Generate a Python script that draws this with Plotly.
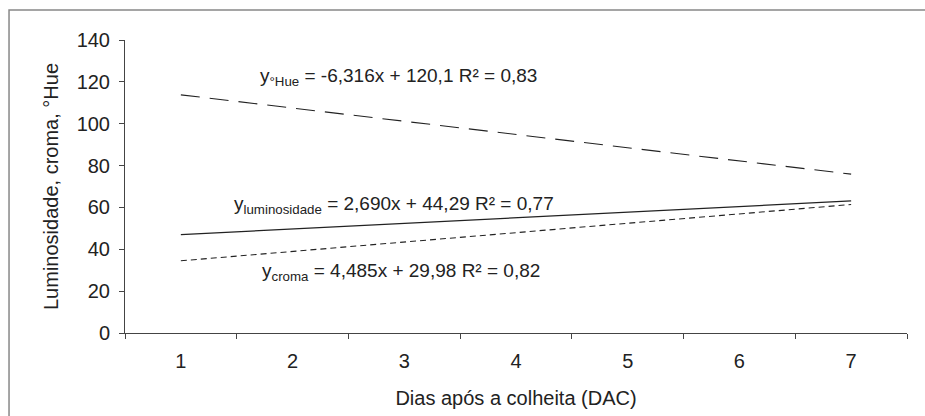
import plotly.graph_objects as go

days = ["1", "2", "3", "4", "5", "6", "7"]
trend_x = ["1", "7"]
hue_vals = [113.8, 75.9]
lum_vals = [47.0, 63.1]
croma_vals = [34.5, 61.4]
y_ticks = [0, 20, 40, 60, 80, 100, 120, 140]

FONT = "Liberation Sans, Arial, sans-serif"
INK = "#222222"

fig = go.Figure()
fig.add_trace(go.Scatter(x=trend_x, y=hue_vals, mode="lines",
                         line=dict(color=INK, width=1.1, dash="19px,10px"), showlegend=False))
fig.add_trace(go.Scatter(x=trend_x, y=lum_vals, mode="lines",
                         line=dict(color=INK, width=1.3), showlegend=False))
fig.add_trace(go.Scatter(x=trend_x, y=croma_vals, mode="lines",
                         line=dict(color=INK, width=1.1, dash="6px,4px"), showlegend=False))

ann = [
    ("y<sub>°Hue</sub> = -6,316x + 120,1 R² = 0,83", 0.35, 0.874),
    ("y<sub>luminosidade</sub> = 2,690x + 44,29 R² = 0,77", 0.344, 0.437),
    ("y<sub>croma</sub> = 4,485x + 29,98 R² = 0,82", 0.353, 0.208),
]
for t, ax, ay in ann:
    fig.add_annotation(text=t, x=ax, y=ay, xref="paper", yref="paper", showarrow=False,
                       font=dict(family=FONT, size=19, color=INK), xanchor="center", yanchor="middle")

# outer frame
fig.add_shape(type="rect", xref="paper", yref="paper", x0=-0.1483, x1=1.05, y0=-0.35, y1=1.1024,
              line=dict(color="#888888", width=1.5), fillcolor="rgba(0,0,0,0)", layer="below")

fig.update_layout(
    width=925, height=416,
    margin=dict(l=125, r=18, t=40, b=83),
    paper_bgcolor="white", plot_bgcolor="white",
    font=dict(family=FONT, size=20, color=INK),
    xaxis=dict(type="category", categoryorder="array", categoryarray=days,
               tickvals=days, ticks="outside", tickson="boundaries", ticklen=5,
               tickcolor="#444", showline=True, linecolor="#444", linewidth=1,
               showgrid=False, zeroline=False, ticklabelstandoff=10,
               tickfont=dict(size=20),
               title=dict(text="Dias após a colheita (DAC)", standoff=19,
                          font=dict(family=FONT, size=20, color=INK)),
               range=[-0.5, 6.5]),
    yaxis=dict(range=[0, 140], tickvals=y_ticks, ticks="outside", ticklen=5,
               tickcolor="#444", showline=True, linecolor="#444", linewidth=1,
               showgrid=False, zeroline=False, ticklabelstandoff=5,
               tickfont=dict(size=20),
               title=dict(text="Luminosidade, croma, °Hue", standoff=12,
                          font=dict(family=FONT, size=20, color=INK))),
)

fig.write_html("out.html")
